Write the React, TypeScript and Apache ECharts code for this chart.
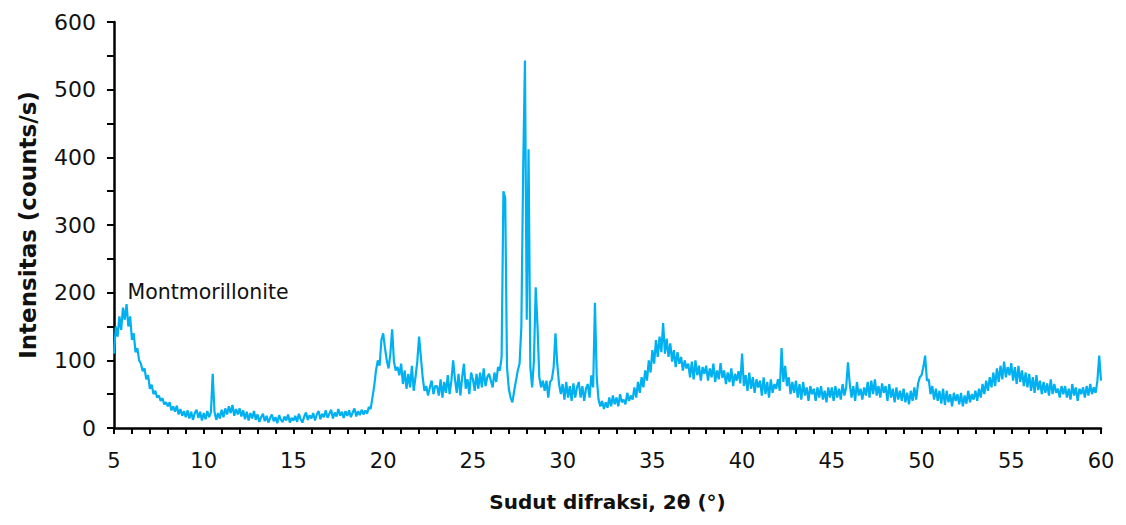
import React, { useEffect, useRef } from "react";
import * as echarts from "echarts";

// 2θ from 5.0 to 60.0 at 0.1° steps; one row per degree (x.0 … x.9)
const thetaStart = 5;
const thetaStep = 0.1;
const intensity: number[][] = [
  [110, 150, 135, 165, 145, 178, 160, 183, 150, 165], // 5
  [130, 140, 112, 118, 100, 95, 84, 88, 72, 78], // 6
  [58, 64, 50, 55, 45, 48, 40, 44, 35, 38], // 7
  [32, 38, 26, 32, 24, 33, 20, 28, 18, 25], // 8
  [16, 26, 14, 24, 12, 22, 27, 15, 24, 11], // 9
  [22, 13, 25, 16, 23, 80, 24, 12, 22, 14], // 10
  [27, 16, 29, 20, 32, 22, 34, 18, 28, 20], // 11
  [29, 17, 26, 13, 24, 11, 22, 14, 25, 12], // 12
  [20, 9, 16, 21, 10, 18, 8, 15, 20, 10], // 13
  [16, 7, 19, 12, 9, 17, 11, 20, 8, 15], // 14
  [11, 18, 9, 21, 13, 8, 17, 23, 12, 19], // 15
  [14, 22, 11, 20, 25, 13, 21, 16, 26, 15], // 16
  [21, 27, 14, 23, 17, 28, 18, 24, 15, 25], // 17
  [18, 26, 16, 23, 29, 17, 25, 19, 27, 20], // 18
  [26, 21, 31, 28, 45, 62, 85, 100, 92, 130], // 19
  [140, 118, 100, 88, 110, 146, 98, 85, 90, 78], // 20
  [95, 65, 85, 58, 80, 60, 92, 55, 75, 98], // 21
  [135, 105, 75, 55, 62, 48, 60, 70, 50, 62], // 22
  [62, 48, 72, 45, 68, 52, 78, 50, 70, 100], // 23
  [72, 52, 80, 48, 75, 95, 58, 72, 50, 82], // 24
  [72, 55, 80, 58, 82, 60, 88, 62, 75, 80], // 25
  [70, 60, 82, 68, 90, 85, 105, 350, 340, 90], // 26
  [58, 45, 38, 55, 70, 85, 95, 150, 380, 543], // 27
  [160, 412, 90, 60, 100, 208, 150, 75, 60, 70], // 28
  [55, 70, 45, 68, 72, 90, 140, 95, 65, 50], // 29
  [65, 42, 68, 45, 62, 40, 66, 45, 60, 68], // 30
  [45, 62, 40, 58, 65, 45, 78, 60, 185, 75], // 31
  [42, 32, 40, 28, 38, 30, 45, 32, 48, 35], // 32
  [45, 32, 50, 38, 42, 35, 52, 40, 48, 42], // 33
  [60, 45, 68, 52, 75, 60, 85, 70, 100, 82], // 34
  [115, 95, 130, 105, 135, 112, 155, 110, 132, 105], // 35
  [125, 98, 115, 90, 112, 95, 105, 85, 100, 88], // 36
  [95, 75, 98, 72, 100, 78, 92, 70, 90, 80], // 37
  [92, 70, 88, 75, 95, 68, 85, 72, 96, 74], // 38
  [85, 65, 82, 68, 88, 62, 80, 70, 84, 66], // 39
  [110, 62, 78, 55, 82, 58, 75, 52, 72, 60], // 40
  [70, 48, 75, 50, 68, 45, 72, 52, 65, 58], // 41
  [72, 55, 118, 68, 92, 62, 75, 50, 68, 52], // 42
  [70, 45, 65, 42, 68, 48, 60, 40, 62, 50], // 43
  [58, 40, 60, 45, 62, 42, 55, 38, 60, 45], // 44
  [60, 40, 62, 45, 58, 42, 65, 48, 60, 97], // 45
  [65, 45, 62, 40, 68, 48, 58, 42, 60, 48], // 46
  [68, 45, 70, 50, 72, 48, 62, 45, 66, 52], // 47
  [62, 40, 65, 45, 58, 38, 60, 42, 55, 40], // 48
  [58, 38, 52, 35, 55, 40, 60, 42, 65, 75], // 49
  [78, 90, 107, 70, 72, 50, 62, 42, 58, 40], // 50
  [55, 36, 58, 34, 55, 38, 50, 32, 52, 40], // 51
  [50, 35, 52, 32, 48, 36, 55, 38, 50, 42], // 52
  [55, 40, 58, 45, 65, 50, 70, 55, 75, 60], // 53
  [82, 62, 88, 68, 92, 72, 98, 75, 90, 78], // 54
  [96, 70, 90, 65, 92, 68, 85, 62, 82, 60], // 55
  [80, 55, 75, 52, 78, 56, 70, 50, 68, 52], // 56
  [66, 48, 72, 50, 65, 52, 58, 45, 62, 50], // 57
  [62, 45, 58, 42, 65, 48, 60, 40, 58, 50], // 58
  [60, 45, 62, 48, 65, 50, 60, 52, 70, 107], // 59
  [70], // 60
];

const annotation = { text: "Montmorillonite", x: 5.75, y: 201 };
const xTitle = "Sudut difraksi, 2θ (°)";
const yTitle = "Intensitas (counts/s)";

export default function App() {
  const ref = useRef<HTMLDivElement>(null);
  useEffect(() => {
    if (!ref.current) return;
    const chart = echarts.init(ref.current, null, { renderer: "svg" });
    const flat = intensity.flat();
    const data = flat.map((v, i) => [
      Math.round((thetaStart + i * thetaStep) * 10) / 10,
      v,
    ]);
    const font = "'DejaVu Sans', sans-serif";
    chart.setOption({
      animation: false,
      grid: { left: 100, right: 17, top: 14, bottom: 80, containLabel: false },
      xAxis: {
        type: "value",
        min: 5,
        max: 60,
        interval: 5,
        name: xTitle,
        nameLocation: "middle",
        nameGap: 64,
        nameTextStyle: { fontFamily: font, fontSize: 20, fontWeight: "bold", color: "#111" },
        axisLine: { onZero: false, lineStyle: { color: "#000", width: 2.5 } },
        axisTick: { show: true, inside: false, length: 6, lineStyle: { color: "#000", width: 2 } },
        minorTick: { show: true, splitNumber: 5, length: 6, lineStyle: { color: "#000", width: 2 } },
        axisLabel: { fontFamily: font, fontSize: 21, color: "#111", margin: 22 },
        splitLine: { show: false },
      },
      yAxis: {
        type: "value",
        min: 0,
        max: 600,
        interval: 100,
        name: yTitle,
        nameLocation: "middle",
        nameGap: 75,
        nameTextStyle: { fontFamily: font, fontSize: 23, fontWeight: "bold", color: "#111" },
        axisLine: { show: true, lineStyle: { color: "#000", width: 2.5 } },
        axisTick: { show: true, inside: false, length: 7, lineStyle: { color: "#000", width: 2 } },
        minorTick: { show: true, splitNumber: 2, length: 7, lineStyle: { color: "#000", width: 2 } },
        axisLabel: { fontFamily: font, fontSize: 22, color: "#111", margin: 18 },
        splitLine: { show: false },
      },
      series: [
        {
          type: "line",
          data,
          showSymbol: false,
          symbol: "none",
          lineStyle: { color: "#00B0F0", width: 2.2 },
          z: 2,
          markPoint: {
            symbol: "circle",
            symbolSize: 0,
            data: [
              {
                coord: [annotation.x, annotation.y],
                label: {
                  show: true,
                  formatter: annotation.text,
                  position: "right",
                  distance: 0,
                  fontFamily: font,
                  fontSize: 20.5,
                  color: "#111",
                },
              },
            ],
          },
        },
      ],
    });
    return () => chart.dispose();
  }, []);
  return <div ref={ref} style={{ width: 1110, height: 509 }} />;
}
